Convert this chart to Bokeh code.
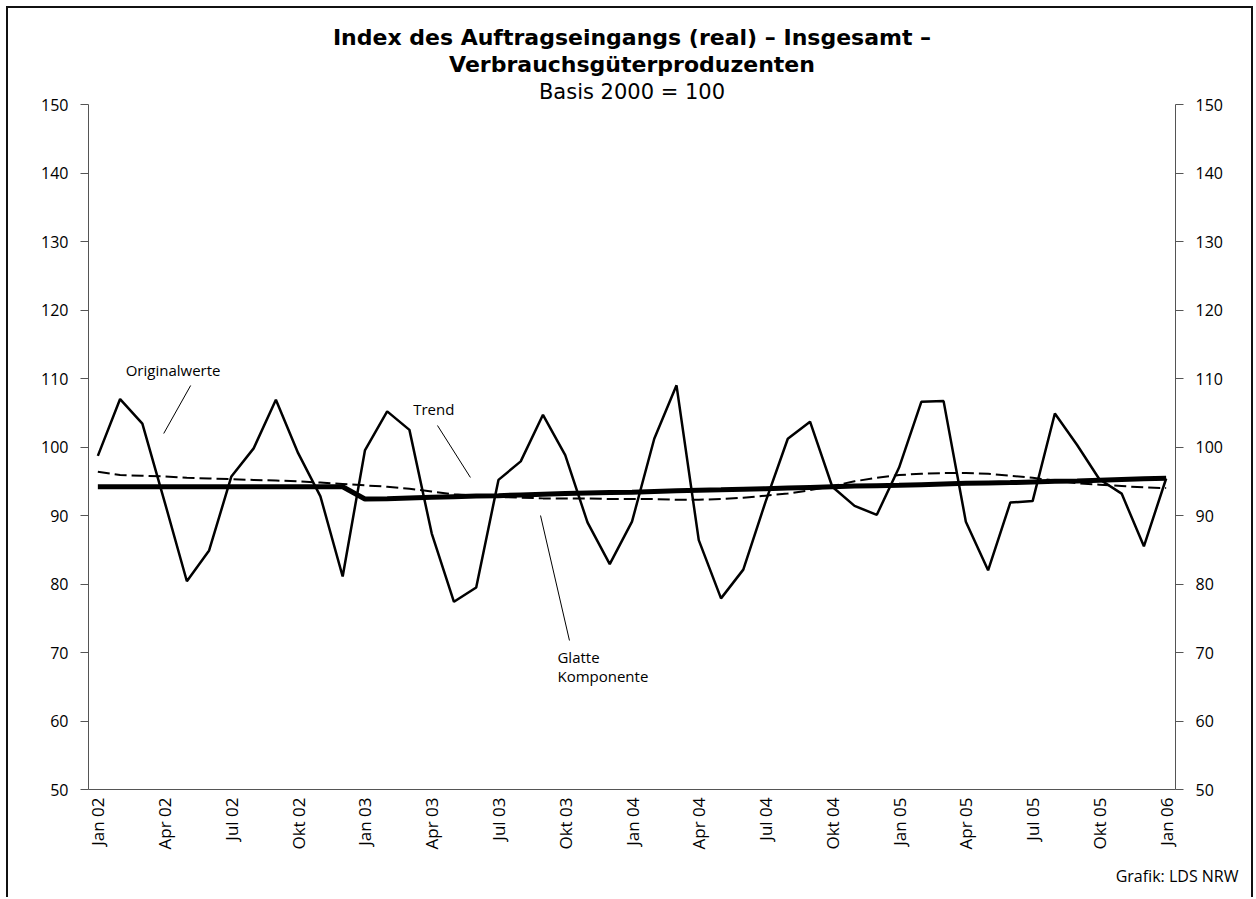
import math
from bokeh.plotting import figure
from bokeh.models import Range1d, LinearAxis, FixedTicker, Label, ColumnDataSource, Title
from bokeh.embed import file_html
from bokeh.resources import INLINE

# ---------------- data ----------------
month_labels = ["Jan 02", "Apr 02", "Jul 02", "Okt 02", "Jan 03", "Apr 03", "Jul 03", "Okt 03",
                "Jan 04", "Apr 04", "Jul 04", "Okt 04", "Jan 05", "Apr 05", "Jul 05", "Okt 05", "Jan 06"]
months = list(range(49))  # Jan 02 .. Jan 06

originalwerte = [98.7, 107.0, 103.4, 92.0, 80.4, 84.9, 95.7, 99.8, 106.9, 99.1,
                 92.8, 81.1, 99.5, 105.2, 102.5, 87.4, 77.4, 79.5, 95.2, 97.9,
                 104.7, 98.8, 89.0, 82.9, 89.1, 101.2, 109.0, 86.4, 77.9, 82.1,
                 92.0, 101.2, 103.7, 94.2, 91.4, 90.1, 97.0, 106.6, 106.7, 89.1,
                 82.0, 91.9, 92.1, 104.9, 100.3, 95.3, 93.2, 85.5, 95.4]

trend = [96.4, 95.9, 95.8, 95.7, 95.5, 95.4, 95.3, 95.2, 95.1, 95.0,
         94.8, 94.6, 94.4, 94.2, 93.9, 93.5, 93.1, 92.9, 92.7, 92.6,
         92.5, 92.5, 92.5, 92.4, 92.4, 92.4, 92.3, 92.3, 92.4, 92.6,
         92.9, 93.2, 93.7, 94.3, 95.0, 95.5, 95.9, 96.1, 96.2, 96.2,
         96.1, 95.8, 95.5, 95.1, 94.7, 94.5, 94.3, 94.1, 94.0]

glatte = [94.2, 94.2, 94.2, 94.2, 94.2, 94.2, 94.2, 94.2, 94.2, 94.2,
          94.2, 94.2, 92.4, 92.45, 92.55, 92.65, 92.75, 92.85, 92.9, 93.0,
          93.1, 93.2, 93.3, 93.35, 93.4, 93.5, 93.6, 93.7, 93.75, 93.85,
          93.9, 94.0, 94.1, 94.2, 94.3, 94.35, 94.4, 94.5, 94.6, 94.7,
          94.75, 94.8, 94.9, 95.0, 95.05, 95.15, 95.25, 95.35, 95.45]

y_ticks = [50, 60, 70, 80, 90, 100, 110, 120, 130, 140, 150]
x_ticks = list(range(0, 49, 3))

# annotation leader lines (data coords)
lead_orig_x = [4.17, 2.96]
lead_orig_y = [108.98, 101.97]
lead_trend_x = [15.26, 16.74]
lead_trend_y = [103.14, 95.55]
lead_glatte_x = [19.89, 21.19]
lead_glatte_y = [90.0, 71.75]

FONT = "Open Sans"
TFONT = "DejaVu Sans"

# ---------------- figure ----------------
p = figure(width=1254, height=897, output_backend="svg", toolbar_location=None,
           x_range=Range1d(-0.42, 48.42), y_range=Range1d(50, 150),
           min_border_left=88, min_border_right=79, min_border_top=104, min_border_bottom=108)
p.outline_line_color = None
p.background_fill_color = "white"
p.border_fill_color = None
p.xgrid.visible = False
p.ygrid.visible = False
# page border drawn as CSS background lines behind the transparent canvas border
p.styles = {
    "background-color": "white",
    "background-image": "linear-gradient(#111,#111), linear-gradient(#111,#111), linear-gradient(#111,#111)",
    "background-size": "2px 100%, 1246px 2px, 2px 100%",
    "background-position": "6px 6px, 6px 6px, 1251px 6px",
    "background-repeat": "no-repeat",
}

src = ColumnDataSource(dict(m=months, o=originalwerte, t=trend, g=glatte))
p.line("m", "g", source=src, line_color="black", line_width=5)
p.line("m", "t", source=src, line_color="black", line_width=2, line_dash="12 5")
p.line("m", "o", source=src, line_color="black", line_width=2.5)

# axes
xa = p.xaxis[0]
xa.ticker = FixedTicker(ticks=x_ticks)
xa.major_label_overrides = {t: lab for t, lab in zip(x_ticks, month_labels)}
xa.major_label_orientation = math.pi / 2
xa.major_tick_out = 0
xa.major_tick_in = 0
xa.minor_tick_out = 0
xa.minor_tick_in = 0
xa.major_label_standoff = 8
xa.major_label_text_font = FONT
xa.major_label_text_font_size = "17px"
xa.major_label_text_color = "black"
xa.axis_line_color = "#555555"

ya = p.yaxis[0]
ra = LinearAxis()
p.add_layout(ra, "right")
for ax in (ya, ra):
    ax.ticker = FixedTicker(ticks=y_ticks)
    ax.major_tick_out = 8
    ax.major_tick_in = 0
    ax.minor_tick_out = 0
    ax.minor_tick_in = 0
    ax.major_label_standoff = 12
    ax.major_label_text_font = FONT
    ax.major_label_text_font_size = "16px"
    ax.major_label_text_color = "black"
    ax.axis_line_color = "#555555"
    ax.major_tick_line_color = "#555555"

# leader lines
for lx, ly in ((lead_orig_x, lead_orig_y), (lead_trend_x, lead_trend_y), (lead_glatte_x, lead_glatte_y)):
    p.line(lx, ly, line_color="black", line_width=1)

def lab(x, y, text, size="15px", align="left"):
    p.add_layout(Label(x=x, y=y, text=text, text_font=FONT, text_font_size=size,
                       text_align=align, text_baseline="middle", text_color="black"))

lab(1.25, 111.3, "Originalwerte")
lab(14.17, 105.6, "Trend")
lab(20.65, 69.3, "Glatte")
lab(20.65, 66.6, "Komponente")

# source note below the axis
p.add_layout(Title(text="Grafik: LDS NRW", align="right", offset=-63, standoff=21,
                   text_font=FONT, text_font_size="16px", text_font_style="normal",
                   text_color="black"), "below")

# titles (added closest-first)
p.add_layout(Title(text="Basis 2000 = 100", align="center", text_font=TFONT,
                   text_font_size="21px", text_font_style="normal", text_color="black",
                   standoff=2, offset=0), "above")
p.add_layout(Title(text="Verbrauchsgüterproduzenten", align="center", text_font=TFONT,
                   text_font_size="22px", text_font_style="bold", text_color="black",
                   standoff=0), "above")
p.add_layout(Title(text="Index des Auftragseingangs (real) – Insgesamt –", align="center",
                   text_font=TFONT, text_font_size="22px", text_font_style="bold",
                   text_color="black", standoff=0), "above")

open("out.html", "w").write(file_html(p, INLINE))
